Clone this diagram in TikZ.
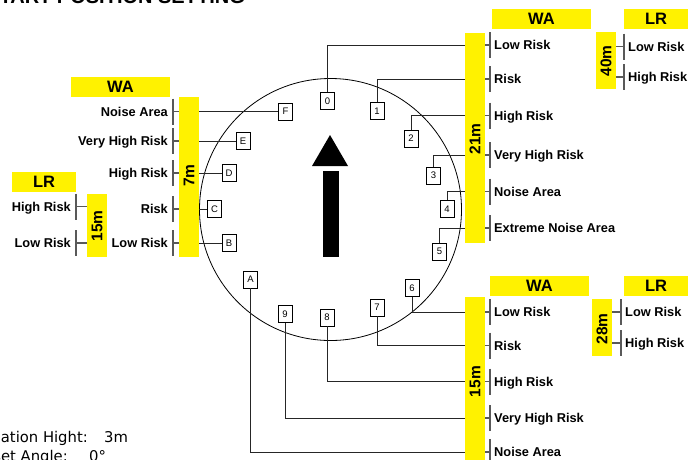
\documentclass[tikz,border=0pt]{standalone}
\usepackage{fontspec}
\setmainfont{Liberation Sans}
\newfontfamily\infofont{DejaVu Sans}
\begin{document}
\begin{tikzpicture}[x=1pt,y=-1pt,
  lab/.style={font=\fontsize{12.8}{15}\selectfont\bfseries, inner sep=0pt},
  hdr/.style={fill=yellow, minimum height=20pt, inner sep=0pt, font=\fontsize{16.5}{18}\selectfont\bfseries},
  ybar/.style={fill=yellow, inner sep=0pt, minimum width=20pt},
  barlab/.style={font=\fontsize{15.5}{17}\selectfont\bfseries, rotate=90, inner sep=0pt},
  sbox/.style={draw, fill=white, minimum width=14pt, minimum height=17pt, inner sep=0pt, font=\fontsize{9.5}{10}\selectfont, line width=0.6pt},
  conn/.style={line width=0.9pt, draw=black!85},
  tick/.style={line width=1.1pt, draw=black!65},
  plain/.style={font=\infofont\fontsize{14.8}{16}\selectfont, inner sep=0pt}
]
\useasboundingbox (0,0) rectangle (692,459);

% title (cut off at top)
\node[font=\fontsize{20}{22}\selectfont\bfseries, inner sep=0pt, anchor=base east] (title) at (245,3.5) {START POSITION SETTING};

% circle and arrow
\draw[line width=0.8pt] (330.5,209.5) circle[radius=131pt];
\fill (312,166) -- (330,135) -- (348,166) -- cycle;
\fill (323,171) rectangle (339,257);

% bars
\node[ybar, minimum height=160pt] (bar7) at (189,177) {};
\node[ybar, minimum height=63pt] (bar15L) at (97,225.5) {};
\node[ybar, minimum height=210pt] (bar21) at (475,138) {};
\node[ybar, minimum height=57pt] (bar40) at (606,60.5) {};
\node[ybar, minimum height=173pt] (bar15R) at (475,383.5) {};
\node[ybar, minimum height=57pt] (bar28) at (602,327.5) {};
\node[barlab] (t7) at (189,175.5) {7m};
\node[barlab] (t15L) at (97,226) {15m};
\node[barlab] (t21) at (475,139) {21m};
\node[barlab] (t40) at (606,61) {40m};
\node[barlab] (t15R) at (475,381.5) {15m};
\node[barlab] (t28) at (602,329) {28m};

% headers
\node[hdr, minimum width=99pt] (hWAL) at (120.5,86.5) {WA};
\node[hdr, minimum width=64pt] (hLRL) at (44,182) {LR};
\node[hdr, minimum width=99pt] (hWAT) at (541.5,19) {WA};
\node[hdr, minimum width=64pt] (hLRT) at (656,19) {LR};
\node[hdr, minimum width=99pt] (hWAB) at (539.5,286) {WA};
\node[hdr, minimum width=64pt] (hLRB) at (656,286) {LR};

% left WA group
\foreach \t/\y/\n in {Noise Area/111.5/1, Very High Risk/141/2, High Risk/173/3, Risk/209/4, Low Risk/243/5} {
  \coordinate (tl\n) at (173,\y);
  \node[lab, anchor=base east] (ll\n) at ([xshift=-5pt, yshift=-4.6pt]tl\n) {\t};
  \draw[tick] ([yshift=13pt]tl\n) -- ([yshift=-13pt]tl\n);
  \draw[tick] (tl\n) -- (tl\n -| bar7.west);
}
% left LR group
\foreach \t/\y/\n in {High Risk/206.5/1, Low Risk/243/2} {
  \coordinate (tk\n) at (76,\y);
  \node[lab, anchor=base east] (lk\n) at ([xshift=-5pt, yshift=-4.6pt]tk\n) {\t};
  \draw[tick] ([yshift=13pt]tk\n) -- ([yshift=-13pt]tk\n);
  \draw[tick] (tk\n) -- (tk\n -| bar15L.west);
}
% right top WA group
\foreach \t/\y/\n in {Low Risk/45/1, Risk/79/2, High Risk/115.5/3, Very High Risk/155/4, Noise Area/191.5/5, Extreme Noise Area/228/6} {
  \coordinate (tr\n) at (490,\y);
  \node[lab, anchor=base west] (lr\n) at ([xshift=4pt, yshift=-4.6pt]tr\n) {\t};
  \draw[tick] ([yshift=13pt]tr\n) -- ([yshift=-13pt]tr\n);
  \draw[tick] (tr\n) -- (tr\n -| bar21.east);
}
% right top LR group
\foreach \t/\y/\n in {Low Risk/46.5/1, High Risk/77/2} {
  \coordinate (ts\n) at (624,\y);
  \node[lab, anchor=base west] (ls\n) at ([xshift=4pt, yshift=-4.6pt]ts\n) {\t};
  \draw[tick] ([yshift=13pt]ts\n) -- ([yshift=-13pt]ts\n);
  \draw[tick] (ts\n) -- (ts\n -| bar40.east);
}
% right bottom WA group
\foreach \t/\y/\n in {Low Risk/312/1, Risk/345.5/2, High Risk/381.5/3, Very High Risk/418/4, Noise Area/452/5} {
  \coordinate (tb\n) at (490,\y);
  \node[lab, anchor=base west] (lb\n) at ([xshift=4pt, yshift=-4.6pt]tb\n) {\t};
  \draw[tick] ([yshift=13pt]tb\n) -- ([yshift=-13pt]tb\n);
  \draw[tick] (tb\n) -- (tb\n -| bar15R.east);
}
% right bottom LR group
\foreach \t/\y/\n in {Low Risk/312/1, High Risk/343/2} {
  \coordinate (tc\n) at (621,\y);
  \node[lab, anchor=base west] (lc\n) at ([xshift=4pt, yshift=-4.6pt]tc\n) {\t};
  \draw[tick] ([yshift=13pt]tc\n) -- ([yshift=-13pt]tc\n);
  \draw[tick] (tc\n) -- (tc\n -| bar28.east);
}

% switch position boxes
\coordinate (p0) at (327.5,101);
\coordinate (p1) at (377,111);
\coordinate (p2) at (411,138.5);
\coordinate (p3) at (433.5,175.5);
\coordinate (p4) at (447,209);
\coordinate (p5) at (439.5,251.5);
\coordinate (p6) at (412,288);
\coordinate (p7) at (377,307.5);
\coordinate (p8) at (327,317.5);
\coordinate (p9) at (285,314);
\coordinate (pA) at (250.5,279.5);

\node[sbox] (b0) at (p0) {0};
\node[sbox] (b1) at (p1) {1};
\node[sbox] (b2) at (p2) {2};
\node[sbox] (b3) at (p3) {3};
\node[sbox] (b4) at (p4) {4};
\node[sbox] (b5) at (p5) {5};
\node[sbox] (b6) at (p6) {6};
\node[sbox] (b7) at (p7) {7};
\node[sbox] (b8) at (p8) {8};
\node[sbox] (b9) at (p9) {9};
\node[sbox] (bA) at (pA) {A};
\node[sbox] (bB) at (229,243) {B};
\node[sbox] (bC) at (214.5,209) {C};
\node[sbox] (bD) at (229,173) {D};
\node[sbox] (bE) at (243,141) {E};
\node[sbox] (bF) at (285.5,111.5) {F};

\draw[conn] (b0.north) |- (bar21.west |- tr1);
\draw[conn] (b1.north) |- (bar21.west |- tr2);
\draw[conn] (b2.north) |- (bar21.west |- tr3);
\draw[conn] (b3.north) |- (bar21.west |- tr4);
\draw[conn] (b4.north) |- (bar21.west |- tr5);
\draw[conn] (b5.north) |- (bar21.west |- tr6);
\draw[conn] (b6.south) |- (bar15R.west |- tb1);
\draw[conn] (b7.south) |- (bar15R.west |- tb2);
\draw[conn] (b8.south) |- (bar15R.west |- tb3);
\draw[conn] (b9.south) |- (bar15R.west |- tb4);
\draw[conn] (bA.south) |- (bar15R.west |- tb5);
\draw[conn] (bF.west) -- (bF.west -| bar7.east);
\draw[conn] (bE.west) -- (bE.west -| bar7.east);
\draw[conn] (bD.west) -- (bD.west -| bar7.east);
\draw[conn] (bC.west) -- (bC.west -| bar7.east);
\draw[conn] (bB.west) -- (bB.west -| bar7.east);

% bottom-left info text (cut off)
\node[plain, anchor=base east] (ih) at (88,442.5) {Installation Hight:};
\node[plain, anchor=base west] (ihv) at (104,442.5) {3m};
\node[plain, anchor=base east] (oa) at (68,461.5) {Offset Angle:};
\node[plain, anchor=base west] (oav) at (89,461.5) {0°};
\end{tikzpicture}
\end{document}
